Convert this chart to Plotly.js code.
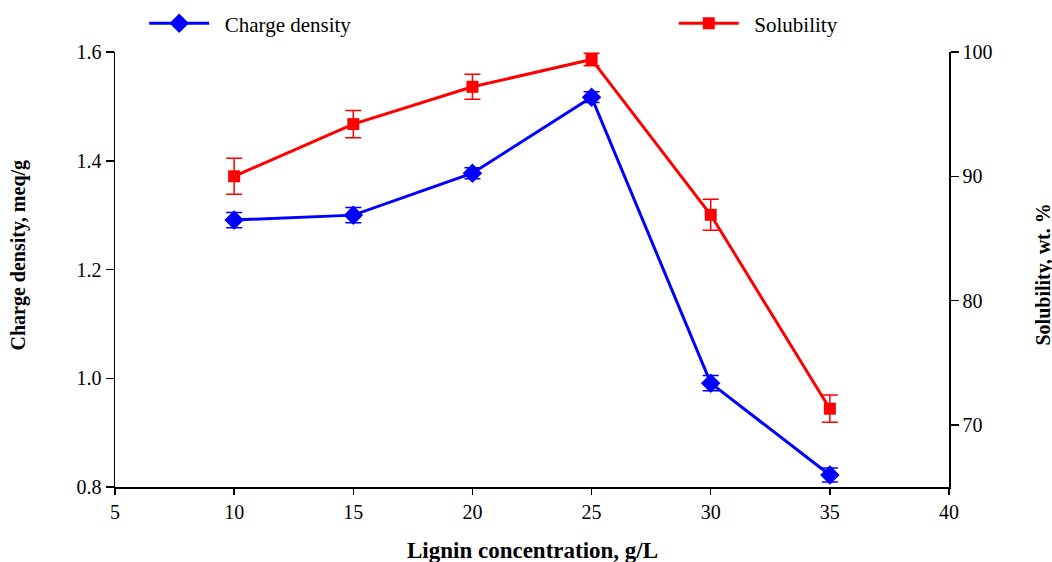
<!DOCTYPE html>
<html>
<head>
<meta charset="utf-8">
<script src="https://cdn.plot.ly/plotly-3.0.1.min.js"></script>
<style>html,body{margin:0;padding:0;background:#fff;}#chart{width:1052px;height:562px;}</style>
</head>
<body>
<div id="chart"></div>
<script>
const concentration = [10, 15, 20, 25, 30, 35];
const chargeDensity = [1.291, 1.300, 1.377, 1.517, 0.991, 0.822];
const chargeDensityErr = [0.014, 0.014, 0.010, 0.010, 0.014, 0.013];
const solubility = [90.0, 94.2, 97.2, 99.4, 86.9, 71.3];
const solubilityErr = [1.45, 1.1, 1.0, 0.5, 1.25, 1.1];
const xTicks = [5, 10, 15, 20, 25, 30, 35, 40];
const leftTicks = [0.8, 1.0, 1.2, 1.4, 1.6];
const rightTicks = [70, 80, 90, 100];

const serif = "Liberation Serif, Times New Roman, serif";

const traces = [
  {
    x: concentration, y: chargeDensity, name: "\u00a0\u00a0Charge density",
    type: "scatter", mode: "lines+markers",
    line: {color: "#0000ff", width: 3},
    marker: {symbol: "diamond", size: 15, color: "#0000ff"},
    error_y: {type: "data", array: chargeDensityErr, visible: true, color: "#0000ff", thickness: 1.5, width: 8},
    yaxis: "y", legend: "legend"
  },
  {
    x: concentration, y: solubility, name: "\u00a0\u00a0Solubility",
    type: "scatter", mode: "lines+markers",
    line: {color: "#ff0000", width: 3},
    marker: {symbol: "square", size: 12, color: "#ff0000"},
    error_y: {type: "data", array: solubilityErr, visible: true, color: "#ff0000", thickness: 1.5, width: 8},
    yaxis: "y2", legend: "legend2"
  }
];

const layout = {
  width: 1052, height: 562,
  margin: {l: 115, r: 103, t: 52, b: 75, autoexpand: false},
  paper_bgcolor: "#fff", plot_bgcolor: "#fff",
  font: {family: serif, size: 20, color: "#000"},
  showlegend: true,
  legend: {
    x: 0.035, y: 1.018, xanchor: "left", yanchor: "bottom", xref: "paper", yref: "paper",
    orientation: "h", bgcolor: "rgba(0,0,0,0)", font: {family: serif, size: 21, color: "#000"},
    itemwidth: 60
  },
  legend2: {
    x: 0.67, y: 1.018, xanchor: "left", yanchor: "bottom", xref: "paper", yref: "paper",
    orientation: "h", bgcolor: "rgba(0,0,0,0)", font: {family: serif, size: 21, color: "#000"},
    itemwidth: 60
  },
  xaxis: {
    range: [5, 40], tickvals: xTicks, ticktext: xTicks.map(String),
    showgrid: false, zeroline: false, showline: true, linecolor: "#000", linewidth: 1.5,
    ticks: "outside", ticklen: 6, tickwidth: 1.5, tickcolor: "#000",
    tickfont: {family: serif, size: 20}
  },
  yaxis: {
    range: [0.8, 1.6], tickvals: leftTicks, ticktext: leftTicks.map(v => v.toFixed(1)),
    showgrid: false, zeroline: false, showline: true, linecolor: "#000", linewidth: 1.5,
    ticks: "outside", ticklen: 8, tickwidth: 1.5, tickcolor: "#000",
    tickfont: {family: serif, size: 20}
  },
  yaxis2: {
    range: [65, 100], tickvals: rightTicks, ticktext: rightTicks.map(String),
    overlaying: "y", side: "right",
    showgrid: false, zeroline: false, showline: true, linecolor: "#000", linewidth: 1.5,
    ticks: "outside", ticklen: 8, tickwidth: 1.5, tickcolor: "#000",
    tickfont: {family: serif, size: 20}
  },
  annotations: [
    {text: "<b>Lignin concentration, g/L</b>", xref: "paper", yref: "paper", x: 0.5, y: 0,
     xanchor: "center", yanchor: "middle", yshift: -63, showarrow: false, font: {family: serif, size: 23}},
    {text: "<b>Charge density, meq/g</b>", xref: "paper", yref: "paper", x: 0, y: 0.5,
     xanchor: "center", yanchor: "middle", xshift: -97, yshift: 14, textangle: -90, showarrow: false,
     font: {family: serif, size: 20}},
    {text: "<b>Solubility, wt. %</b>", xref: "paper", yref: "paper", x: 1, y: 0.5,
     xanchor: "center", yanchor: "middle", xshift: 94, yshift: -5, textangle: -90, showarrow: false,
     font: {family: serif, size: 20}}
  ]
};

Plotly.newPlot("chart", traces, layout, {displayModeBar: false, staticPlot: true});
</script>
</body>
</html>
